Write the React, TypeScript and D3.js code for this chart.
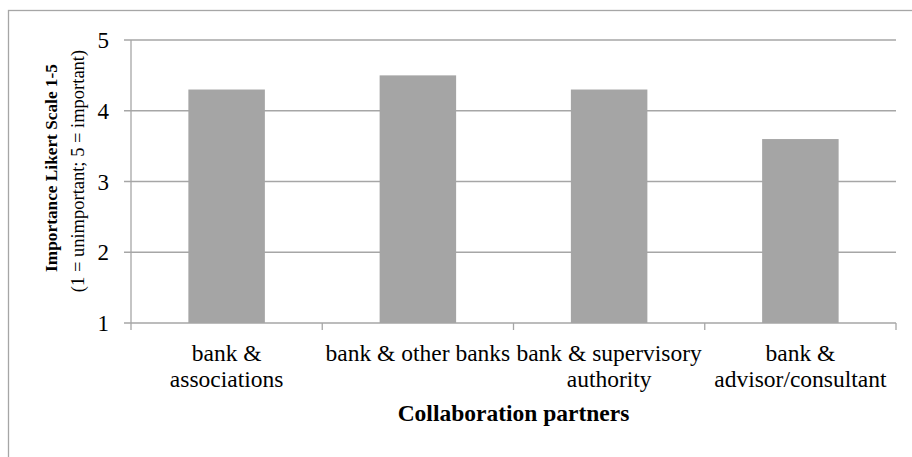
import React from "react";
import * as d3 from "d3";

const categories: string[][] = [
  ["bank &", "associations"],
  ["bank & other banks"],
  ["bank & supervisory", "authority"],
  ["bank &", "advisor/consultant"],
];
const values: number[] = [4.3, 4.5, 4.3, 3.6];
const yTicks: number[] = [1, 2, 3, 4, 5];
const yTitle1 = "Importance Likert Scale 1-5";
const yTitle2 = "(1 = unimportant; 5 = important)";
const xTitle = "Collaboration partners";

const W = 912;
const H = 457;
const left = 131;
const right = 896;
const top = 40;
const bottom = 323;
const font = "'Liberation Serif', 'Times New Roman', serif";
const gridColor = "#a6a6a6";

export default function App() {
  const keys = categories.map((_, i) => String(i));
  const x = d3.scaleBand<string>().domain(keys).range([left, right]).paddingInner(0).paddingOuter(0);
  const y = d3.scaleLinear().domain([1, 5]).range([bottom, top]);
  const bw = x.bandwidth() * 0.4;
  const boundaries = [...keys.map((k) => x(k)!), right];

  return (
    <svg
      width={W}
      height={H}
      style={{ position: "absolute", left: 0, top: 0, background: "#fff" }}
    >
      <rect x={8.5} y={10.5} width={W + 20} height={H + 20} fill="#fff" stroke={gridColor} strokeWidth={1.3} />
      {yTicks.map((t) => (
        <g key={t}>
          <line x1={left - 7} x2={right} y1={y(t)} y2={y(t)} stroke={gridColor} strokeWidth={1.3} />
          <text
            x={109}
            y={y(t) + 8}
            textAnchor="end"
            fontFamily={font}
            fontSize={23}
            fill="#000"
          >
            {t}
          </text>
        </g>
      ))}
      {values.map((v, i) => {
        const cx = x(String(i))! + x.bandwidth() / 2;
        return (
          <rect
            key={i}
            x={cx - bw / 2}
            y={y(v)}
            width={bw}
            height={y(1) - y(v)}
            fill="#a5a5a5"
          />
        );
      })}
      <line x1={left} x2={left} y1={top} y2={bottom} stroke={gridColor} strokeWidth={1.3} />
      {boundaries.map((b, i) => (
        <line key={i} x1={b} x2={b} y1={bottom} y2={bottom + 7} stroke={gridColor} strokeWidth={1.3} />
      ))}
      {categories.map((lines, i) => {
        const cx = x(String(i))! + x.bandwidth() / 2;
        return (
          <text key={i} textAnchor="middle" fontFamily={font} fontSize={23.5} fill="#000">
            {lines.map((l, j) => (
              <tspan key={j} x={cx} y={361 + j * 26}>
                {l}
              </tspan>
            ))}
          </text>
        );
      })}
      <text
        x={(left + right) / 2}
        y={421}
        textAnchor="middle"
        fontFamily={font}
        fontSize={23.5}
        fontWeight="bold"
        fill="#000"
      >
        {xTitle}
      </text>
      <g transform={`translate(57, 168) rotate(-90)`}>
        <text x={0} y={0} textAnchor="middle" fontFamily={font} fontSize={17.3} fontWeight="bold" fill="#000">
          {yTitle1}
        </text>
      </g>
      <g transform={`translate(84, 171) rotate(-90)`}>
        <text x={0} y={0} textAnchor="middle" fontFamily={font} fontSize={18.5} fill="#000">
          {yTitle2}
        </text>
      </g>
    </svg>
  );
}
